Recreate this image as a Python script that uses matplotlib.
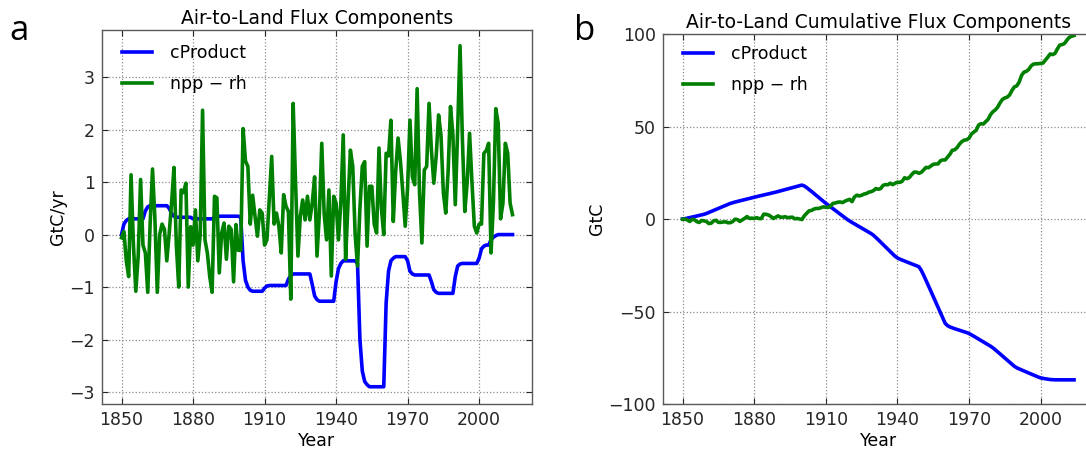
import matplotlib
matplotlib.use("Agg")
import matplotlib.pyplot as plt
import numpy as np

years = np.arange(1850, 2015)

# cProduct flux, GtC/yr, one value per year 1850-2014
cproduct = [
    0.0, 0.2, 0.27, 0.3, 0.3, 0.3, 0.3, 0.3, 0.3, 0.3,
    0.45, 0.53, 0.55, 0.55, 0.55, 0.55, 0.55, 0.55, 0.55, 0.55,
    0.5, 0.4, 0.35, 0.33, 0.33, 0.33, 0.33, 0.33, 0.33, 0.33,
    0.3, 0.3, 0.3, 0.3, 0.3, 0.3, 0.3, 0.3, 0.3, 0.33,
    0.35, 0.35, 0.35, 0.35, 0.35, 0.35, 0.35, 0.35, 0.35, 0.35,
    0.33, -0.5, -0.87, -1.0, -1.06, -1.08, -1.08, -1.08, -1.08, -1.08,
    -1.02, -0.98, -0.97, -0.97, -0.97, -0.97, -0.97, -0.97, -0.97, -0.97,
    -0.85, -0.78, -0.75, -0.75, -0.75, -0.75, -0.75, -0.75, -0.75, -0.75,
    -0.95, -1.17, -1.24, -1.27, -1.27, -1.27, -1.27, -1.27, -1.27, -1.27,
    -0.9, -0.65, -0.55, -0.5, -0.5, -0.5, -0.5, -0.5, -0.5, -0.55,
    -2.0, -2.6, -2.8, -2.86, -2.9, -2.9, -2.9, -2.9, -2.9, -2.9,
    -2.9, -1.3, -0.7, -0.5, -0.45, -0.42, -0.42, -0.42, -0.42, -0.42,
    -0.5, -0.7, -0.75, -0.77, -0.77, -0.77, -0.77, -0.77, -0.77, -0.77,
    -0.9, -1.05, -1.1, -1.12, -1.12, -1.12, -1.12, -1.12, -1.12, -1.12,
    -0.8, -0.6, -0.56, -0.55, -0.55, -0.55, -0.55, -0.55, -0.55, -0.55,
    -0.45, -0.27, -0.22, -0.2, -0.2, -0.1, -0.05, -0.02, 0.0, 0.0,
    0.0, 0.0, 0.0, 0.0, 0.0,
]

# npp - rh flux, GtC/yr, one value per year 1850-2014
npp_rh = [
    -0.06, 0.06, -0.5, -0.8, 1.14, -0.2, -1.08, -0.4, 1.05, -0.2,
    -0.35, -1.1, 0.2, 1.25, 0.3, -1.1, 0.0, 0.2, 0.1, -0.5,
    0.03, 0.6, 1.28, -0.2, -1.0, 0.85, 0.8, 0.98, -1.0, 0.15,
    -0.2, 0.47, -0.5, 0.0, 2.37, -0.1, -0.35, -0.8, -1.1, 0.73,
    0.7, -0.73, 0.03, 0.22, -0.47, 0.16, 0.1, -0.9, 0.19, -0.3,
    -0.3, 2.02, 1.4, 1.3, 0.2, 0.75, 0.35, -0.03, 0.47, 0.41,
    -0.2, -0.1, 0.7, 1.49, 0.2, 0.41, 0.16, -0.35, 0.76, 0.54,
    0.44, -1.23, 2.5, 1.0, -0.41, 0.35, 0.66, 0.28, 0.73, 0.28,
    0.6, 1.1, -0.41, 0.4, 1.74, 0.4, -0.1, 0.85, -0.79, 0.73,
    0.6, -0.1, 0.6, 1.9, -0.47, 0.6, 1.61, 1.3, 0.0, -0.6,
    0.5, 1.3, 1.39, -0.22, 0.92, 0.92, 0.2, 0.03, 1.65, 0.5,
    0.0, 1.55, 1.5, 2.18, 0.25, 1.2, 1.84, 1.4, 0.8, 0.16,
    0.9, 2.18, 1.1, 0.95, 2.78, 0.8, -0.16, 1.23, 1.3, 2.5,
    1.6, 0.98, 1.5, 2.28, 1.9, 0.8, 0.41, 1.2, 2.44, 1.9,
    0.57, 2.0, 3.6, 1.8, 0.44, 1.0, 1.93, 1.0, 0.16, 0.03,
    0.2, 0.2, 1.55, 1.6, 1.74, -0.35, 0.6, 2.4, 2.12, 0.3,
    0.6, 1.74, 1.55, 0.6, 0.38,
]

series_labels = ["cProduct", "npp \u2212 rh"]
series_colors = ["#0000ff", "#008000"]
x_ticks = [1850, 1880, 1910, 1940, 1970, 2000]
left_y_ticks = [-3, -2, -1, 0, 1, 2, 3]
right_y_ticks = [-100, -50, 0, 50, 100]


def style_axes(ax, yticks, ylim, ylabel, title, legend_top):
    ax.set_xlim(1841.8, 2022.2)
    ax.set_ylim(*ylim)
    ax.set_xticks(x_ticks)
    ax.set_yticks(yticks)
    ax.set_yticklabels([str(t).replace("-", "\u2212") for t in yticks])
    ax.tick_params(direction="in", length=4, width=0.8, top=True,
                   right=True, labelsize=12.5, colors="0.15", pad=5)
    ax.grid(True, linestyle=":", color="0.55", linewidth=0.9)
    for sp in ax.spines.values():
        sp.set_color("0.35")
        sp.set_linewidth(1.0)
    ax.set_xlabel("Year", fontsize=12.5, labelpad=2)
    ax.set_ylabel(ylabel, fontsize=12.5, labelpad=2)
    ax.set_title(title, fontsize=13.5, pad=4)
    ax.legend(loc="upper left", bbox_to_anchor=(0.0465, legend_top),
              frameon=False, fontsize=12.5, handlelength=1.75,
              handletextpad=1.0, labelspacing=0.75, borderaxespad=0,
              borderpad=0)


def main():
    plt.rcParams["font.family"] = ["DejaVu Sans"]
    fig = plt.figure(figsize=(10.86, 4.54), dpi=100)

    ax1 = fig.add_axes([0.0939, 0.110, 0.396, 0.824])
    ax1.plot(years, cproduct, color=series_colors[0], lw=2.6,
             label=series_labels[0], solid_capstyle="projecting")
    ax1.plot(years, npp_rh, color=series_colors[1], lw=2.6,
             label=series_labels[1], solid_capstyle="projecting")
    style_axes(ax1, left_y_ticks, (-3.23, 3.9), "GtC/yr",
               "Air-to-Land Flux Components", 0.962)

    ax2 = fig.add_axes([0.6105, 0.110, 0.3965, 0.815])
    ax2.plot(years, np.cumsum(cproduct), color=series_colors[0], lw=2.6,
             label=series_labels[0])
    ax2.plot(years, np.cumsum(npp_rh), color=series_colors[1], lw=2.6,
             label=series_labels[1])
    style_axes(ax2, right_y_ticks, (-100, 100), "GtC",
               "Air-to-Land Cumulative Flux Components", 0.970)

    fig.text(0.009, 0.912, "a", fontsize=25, family="Open Sans")
    fig.text(0.529, 0.912, "b", fontsize=25, family="Open Sans")

    fig.savefig("out.png", dpi=100)


if __name__ == "__main__":
    main()
